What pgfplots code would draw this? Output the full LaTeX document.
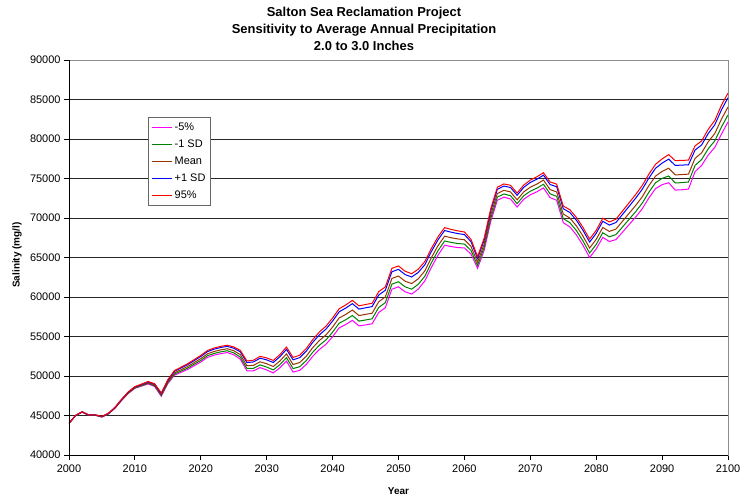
\documentclass[border=0pt]{standalone}
\usepackage{pgfplots}
\pgfplotsset{compat=1.18}
\usepackage{pgfplotstable}
\usepackage{fontspec}
\setmainfont{Liberation Sans}

\definecolor{cmag}{HTML}{FF00FF}
\definecolor{cgreen}{HTML}{008000}
\definecolor{cbrown}{HTML}{993300}
\definecolor{cblue}{HTML}{0000FF}
\definecolor{cred}{HTML}{FF0000}

\pgfplotstableread{
year m5 msd mean psd p95
2000 44000 44000 44000 44000 44000
2001 44980 44990 45000 45010 45020
2002 45430 45440 45450 45460 45470
2003 45020 45030 45050 45070 45080
2004 45020 45030 45050 45070 45080
2005 44800 44820 44850 44880 44900
2006 45200 45220 45250 45280 45300
2007 45940 45970 46000 46040 46060
2008 46920 46960 47000 47050 47080
2009 47800 47850 47900 47960 47990
2010 48440 48490 48550 48620 48660
2011 48720 48780 48850 48930 48970
2012 48990 49070 49150 49250 49300
2013 48670 48760 48850 48960 49020
2014 47440 47540 47650 47780 47850
2015 49040 49160 49300 49460 49540
2016 50100 50240 50400 50590 50690
2017 50460 50620 50800 51010 51120
2018 50830 51000 51200 51430 51550
2019 51300 51490 51700 51950 52080
2020 51770 51970 52200 52470 52610
2021 52350 52560 52800 53080 53220
2022 52640 52850 53100 53390 53540
2023 52820 53050 53300 53600 53750
2024 52970 53200 53450 53750 53900
2025 52690 52930 53200 53520 53680
2026 52120 52390 52700 53060 53240
2027 50660 50960 51300 51700 51900
2028 50660 50980 51350 51780 52000
2029 51060 51410 51800 52260 52490
2030 50770 51130 51550 52040 52290
2031 50380 50770 51200 51710 51970
2032 51040 51440 51900 52440 52710
2033 51890 52320 52800 53370 53660
2034 50490 50940 51450 52050 52350
2035 50710 51170 51700 52320 52630
2036 51460 51950 52500 53150 53480
2037 52510 53020 53600 54280 54620
2038 53360 53900 54500 55210 55570
2039 54020 54570 55200 55940 56310
2040 54980 55550 56200 56960 57340
2041 56100 56690 57350 58130 58520
2042 56520 57120 57800 58600 59000
2043 57050 57660 58350 59160 59570
2044 56340 56950 57650 58470 58880
2045 56470 57090 57800 58630 59050
2046 56610 57240 57950 58790 59210
2047 58040 58680 59400 60250 60680
2048 58640 59280 60000 60850 61280
2049 60990 61630 62350 63200 63630
2050 61290 61930 62650 63500 63930
2051 60660 61290 62000 62840 63260
2052 60370 60990 61700 62530 62950
2053 61000 61610 62300 63110 63520
2054 62040 62630 63300 64090 64490
2055 63770 64350 65000 65770 66160
2056 65300 65860 66500 67250 67630
2057 66550 67090 67700 68420 68780
2058 66380 66910 67500 68200 68550
2059 66260 66770 67350 68030 68370
2060 66210 66700 67250 67900 68230
2061 65440 65890 66400 67000 67300
2062 63630 63990 64400 64880 65120
2063 65900 66280 66700 67200 67450
2064 69570 69960 70400 70920 71180
2065 72250 72650 73100 73630 73900
2066 72640 73040 73500 74040 74310
2067 72400 72820 73300 73860 74140
2068 71390 71820 72300 72870 73160
2069 72370 72810 73300 73880 74170
2070 72940 73390 73900 74500 74800
2071 73320 73780 74300 74910 75220
2072 73810 74270 74800 75420 75730
2073 72580 73060 73600 74240 74560
2074 72240 72740 73300 73960 74290
2075 69410 69920 70500 71180 71520
2076 68880 69410 70000 70700 71050
2077 67860 68400 69000 69710 70070
2078 66530 67080 67700 68430 68800
2079 65000 65560 66200 66950 67330
2080 66080 66650 67300 68060 68440
2081 67550 68140 68800 69580 69970
2082 67020 67620 68300 69100 69500
2083 67270 67900 68600 69430 69850
2084 68220 68870 69600 70460 70890
2085 69180 69840 70600 71490 71940
2086 70130 70820 71600 72520 72980
2087 71180 71890 72700 73650 74130
2088 72550 73280 74100 75070 75560
2089 73720 74460 75300 76290 76790
2090 74220 75010 75900 76950 77480
2091 74460 75320 76300 77450 78030
2092 73530 74430 75450 76650 77250
2093 73580 74480 75500 76700 77300
2094 73660 74550 75550 76730 77320
2095 75870 76660 77550 78600 79130
2096 76650 77400 78250 79250 79750
2097 77970 78760 79650 80700 81230
2098 78940 79770 80700 81800 82350
2099 80610 81500 82500 83680 84270
2100 82160 83050 84050 85230 85820
}\data

\begin{document}
\begin{tikzpicture}
\begin{axis}[
  at={(0,0)}, anchor=south west,
  width=659bp, height=395bp, scale only axis,
  xmin=2000, xmax=2100, ymin=40000, ymax=90000,
  xtick={2000,2010,...,2100}, ytick={40000,45000,...,90000},
  ymajorgrids, grid style={black!85, line width=0.8bp},
  axis line style={draw=black!45, line width=0.8bp},
  tick align=outside, tick pos=left, major tick length=5bp,
  tick style={black, line width=0.8bp},
  ticklabel style={font=\fontsize{11}{13}\selectfont},
  xticklabel style={yshift=-1bp},
  /pgf/number format/1000 sep={}, /pgf/number format/assume math mode=true,
  scaled y ticks=false, scaled x ticks=false,
  legend cell align=left,
  legend style={at={(axis cs:2012,82800)}, anchor=north west,
    draw=black!60, line width=0.8bp, fill=white,
    font=\fontsize{11}{13}\selectfont,
    nodes={inner sep=2bp, text height=9bp, text depth=3bp},
    row sep=1bp, inner xsep=3bp, inner ysep=2bp},
  legend image code/.code={\draw[#1, line width=1.2bp] (0bp,0bp) -- (20bp,0bp);},
  every axis plot/.append style={line width=1bp},
]
\addplot[color=cmag, draw=cmag] table[x=year,y=m5] {\data};
\addlegendentry{-5\%}
\addplot[color=cgreen, draw=cgreen] table[x=year,y=msd] {\data};
\addlegendentry{-1 SD}
\addplot[color=cbrown, draw=cbrown] table[x=year,y=mean] {\data};
\addlegendentry{Mean}
\addplot[color=cblue, draw=cblue] table[x=year,y=psd] {\data};
\addlegendentry{+1 SD}
\addplot[color=cred, draw=cred] table[x=year,y=p95] {\data};
\addlegendentry{95\%}
\draw[black, line width=0.8bp] (rel axis cs:0,0) -- (rel axis cs:0,1);
\draw[black, line width=0.8bp] (rel axis cs:0,0) -- (rel axis cs:1,0);
\end{axis}
\node[font=\bfseries\fontsize{13}{17}\selectfont, align=center] at (295bp,426bp)
  {Salton Sea Reclamation Project\\Sensitivity to Average Annual Precipitation\\2.0 to 3.0 Inches};
\node[font=\bfseries\fontsize{10}{12}\selectfont, rotate=90] at (-52bp,200bp) {Salinity (mg/l)};
\node[font=\bfseries\fontsize{10}{12}\selectfont] at (329.5bp,-36bp) {Year};
\pgfresetboundingbox
\path[use as bounding box] (-69bp,-47bp) rectangle (674bp,455bp);
\end{tikzpicture}
\end{document}
